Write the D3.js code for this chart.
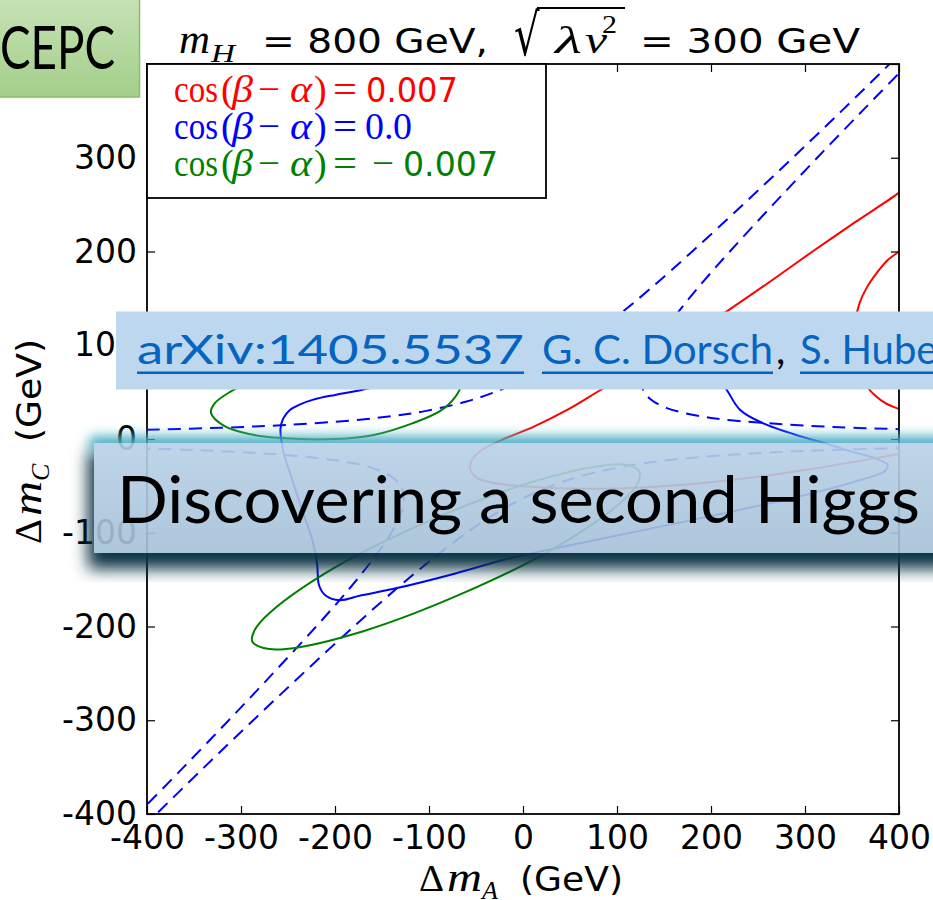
<!DOCTYPE html>
<html>
<head>
<meta charset="utf-8">
<script src="https://cdn.jsdelivr.net/npm/d3@7"></script>
<style>
  html, body { margin: 0; padding: 0; background: #fff; }
  svg { display: block; }
</style>
</head>
<body>
<svg id="chart" width="933" height="900"></svg>
<script>
// ---- axis ticks ----
const tickValues = [-400, -300, -200, -100, 0, 100, 200, 300, 400];
const tickLabels = ["-400", "-300", "-200", "-100", "0", "100", "200", "300", "400"];

// ---- legend ----
const seriesColors = ["#ff0000", "#0000ff", "#008000"];
const seriesValues = ["0.007", "0.0", "−0.007"];

// ---- cos(β−α) = 0 : dashed branches (ΔmA, ΔmC) in GeV ----
const dashUpperLeft = [[-400,9.8],[-321,12],[-252,15],[-180,20],[-135,25],[-103,30],[-60,40],[-30,50],[-7,60],[13,70],[30,80],[60,100],[99,130],[135,160],[180,200],[234,250],[287,300],[339,350],[390,400],[400,410]];
const dashUpperRight = [[410,10],[400,10.5],[330,12.8],[260,17],[200,22.5],[153,33],[135,43],[128,52],[126,60],[127,70],[130,80],[140,100],[161,130],[185,160],[220,200],[266,250],[313,300],[361,350],[400,390],[410,400]];
const dashLowerLeft = [[-410,-10],[-400,-10.3],[-345,-12],[-282,-15],[-220,-20],[-185,-25],[-163,-30],[-140,-40],[-130,-50],[-127,-60],[-127,-70],[-130,-80],[-140,-100],[-161,-130],[-185,-160],[-220,-200],[-266,-250],[-313,-300],[-361,-350],[-400,-390],[-410,-400]];
const dashLowerRight = [[410,-9.5],[400,-9.8],[321,-12],[252,-15],[180,-20],[135,-25],[103,-30],[60,-40],[30,-50],[7,-60],[-13,-70],[-30,-80],[-60,-100],[-99,-130],[-135,-160],[-180,-200],[-234,-250],[-287,-300],[-339,-350],[-390,-400],[-400,-410]];

// ---- cos(β−α) = 0 : solid contour ----
const blueLoop = [[-258,11],[-255,22],[-248,31],[-237,37],[-223,42],[-200,47],[-173,52],[-110,67],[-46,82],[18,93],[82,98],[135,97],[178,88],[204,71],[217,52],[231,31],[255,17],[295,3],[316,-3],[348,-13],[373,-20],[388,-28],[384,-35],[358,-44],[295,-61],[210,-80],[124,-98],[18,-120],[-21,-129],[-78,-145],[-134,-159],[-173,-167],[-195,-172],[-210,-167],[-217,-156],[-219,-134],[-224,-108],[-235,-76],[-246,-42],[-254,-17],[-257,-2]];

// ---- cos(β−α) = 0.007 ----
const redUpper = [[406,268],[399,262],[353,231],[308,200],[263,168],[218,137],[171,107],[125,78],[82,52],[47,31],[11,13],[-25,-2],[-44,-12],[-54,-22],[-56,-33],[-48,-42],[-30,-47],[7,-51],[82,-53],[167,-49],[252,-40],[337,-27],[400,-16],[410,-14]];
const redCap = [[406,206],[400,200],[388,191],[377,178],[366,162],[358,145],[354,127],[353,108],[355,88],[360,71],[366,56],[374,47],[386,38],[400,32],[410,28]];

// ---- cos(β−α) = −0.007 ----
const greenUpper = [[-332,28],[-318,14],[-290,5],[-258,1],[-198,0],[-160,4],[-117,17],[-88,30],[-72,45],[-66,58],[-72,70],[-86,78],[-112,84],[-140,86],[-175,86],[-210,82],[-250,74],[-285,63],[-312,50],[-328,38]];
const greenLower = [[124,-35],[121,-49],[105,-67],[36,-115],[-65,-165],[-170,-205],[-252,-224],[-276,-223],[-288,-216],[-285,-203],[-269,-185],[-200,-137],[-99,-87],[6,-47],[88,-28],[112,-28]];

const curves = [
  { pts: dashUpperLeft,  color: seriesColors[1], dashed: true,  closed: false },
  { pts: dashUpperRight, color: seriesColors[1], dashed: true,  closed: false },
  { pts: dashLowerLeft,  color: seriesColors[1], dashed: true,  closed: false },
  { pts: dashLowerRight, color: seriesColors[1], dashed: true,  closed: false },
  { pts: blueLoop,       color: seriesColors[1], dashed: false, closed: true },
  { pts: redUpper,       color: seriesColors[0], dashed: false, closed: false },
  { pts: redCap,         color: seriesColors[0], dashed: false, closed: false },
  { pts: greenUpper,     color: seriesColors[2], dashed: false, closed: true },
  { pts: greenLower,     color: seriesColors[2], dashed: false, closed: true }
];

const SANS = "'DejaVu Sans', sans-serif";
const SERIF = "'Liberation Serif', 'DejaVu Serif', serif";
const SLIDE = "Lato, 'Open Sans', sans-serif";

const svg = d3.select("#chart");
const defs = svg.append("defs");
svg.append("rect").attr("width", 933).attr("height", 900).attr("fill", "#fff");

const x = d3.scaleLinear().domain([-400, 400]).range([147, 899]);
const y = d3.scaleLinear().domain([-400, 400]).range([814, 64]);
const [X0, X1] = x.range(), [Y1, Y0] = y.range();

defs.append("clipPath").attr("id", "plot-clip")
  .append("rect").attr("x", X0).attr("y", Y0).attr("width", X1 - X0).attr("height", Y1 - Y0);

// ---- contours ----
const openLine = d3.line().x(d => x(d[0])).y(d => y(d[1])).curve(d3.curveCatmullRom.alpha(0.5));
const closedLine = d3.line().x(d => x(d[0])).y(d => y(d[1])).curve(d3.curveCatmullRomClosed.alpha(0.5));

const gCurves = svg.append("g").attr("clip-path", "url(#plot-clip)").attr("fill", "none");
gCurves.selectAll("path").data(curves).join("path")
  .attr("d", d => (d.closed ? closedLine : openLine)(d.pts))
  .attr("stroke", d => d.color)
  .attr("stroke-width", 2)
  .attr("stroke-linejoin", "round")
  .attr("stroke-dasharray", d => d.dashed ? "13,8" : null);

// ---- axes ----
const fmt = d => tickLabels[tickValues.indexOf(d)];
function styleAxis(g) {
  g.select(".domain").remove();
  g.selectAll(".tick line").attr("stroke", "#000").attr("stroke-width", 1.2);
  g.selectAll(".tick text").attr("fill", "#000").attr("font-size", 33).attr("font-family", SANS);
}
svg.append("g").attr("transform", `translate(0,${Y1})`)
  .call(d3.axisBottom(x).tickValues(tickValues).tickFormat(fmt).tickSizeInner(-8).tickSizeOuter(0).tickPadding(12))
  .call(styleAxis);
svg.append("g").attr("transform", `translate(0,${Y0})`)
  .call(d3.axisTop(x).tickValues(tickValues).tickFormat("").tickSizeInner(-8).tickSizeOuter(0))
  .call(styleAxis);
svg.append("g").attr("transform", `translate(${X0},0)`)
  .call(d3.axisLeft(y).tickValues(tickValues).tickFormat(fmt).tickSizeInner(-8).tickSizeOuter(0).tickPadding(10))
  .call(styleAxis);
svg.append("g").attr("transform", `translate(${X1},0)`)
  .call(d3.axisRight(y).tickValues(tickValues).tickFormat("").tickSizeInner(-8).tickSizeOuter(0))
  .call(styleAxis);

svg.append("rect").attr("x", X0).attr("y", Y0).attr("width", X1 - X0).attr("height", Y1 - Y0)
  .attr("fill", "none").attr("stroke", "#000").attr("stroke-width", 1.8);

// helper: text piece
function piece(parent, t, px, py, o = {}) {
  const el = parent.append("text").attr("x", px).attr("y", py).text(t)
    .attr("font-family", o.family || SERIF).attr("font-size", o.size || 38)
    .attr("fill", o.fill || "#000");
  if (o.italic) el.attr("font-style", "italic");
  if (o.w) el.attr("textLength", o.w).attr("lengthAdjust", "spacingAndGlyphs");
  return el;
}

// ink extent of a glyph relative to its text anchor (baseline origin)
function inkBox(ch, font) {
  const c = document.createElement("canvas");
  c.width = 240; c.height = 240;
  const ctx = c.getContext("2d");
  ctx.font = font;
  ctx.textBaseline = "alphabetic";
  ctx.fillStyle = "#000";
  ctx.fillText(ch, 60, 170);
  const data = ctx.getImageData(0, 0, 240, 240).data;
  let x0 = 1e9, x1 = -1e9, y0 = 1e9, y1 = -1e9;
  for (let j = 0; j < 240; j++) for (let i = 0; i < 240; i++) {
    if (data[(j * 240 + i) * 4 + 3] > 60) {
      if (i < x0) x0 = i; if (i > x1) x1 = i; if (j < y0) y0 = j; if (j > y1) y1 = j;
    }
  }
  return { x0: x0 - 60, x1: x1 + 1 - 60, y0: y0 - 170, y1: y1 + 1 - 170 };
}

// ---- title ----
const gTitle = svg.append("g");
piece(gTitle, "m", 179, 53, { italic: true, size: 40, w: 31 });
piece(gTitle, "H", 211, 62, { italic: true, size: 26, w: 24 });
piece(gTitle, "= 800 GeV,", 262, 53, { family: SANS, size: 33, w: 226 });
// radical sign stretched over λv², with its vinculum
const ink = inkBox("√", "40px 'DejaVu Sans'");
const rx0 = 515, rx1 = 540, ry0 = 7, ry1 = 56;
const sx = (rx1 - rx0) / (ink.x1 - ink.x0), sy = (ry1 - ry0) / (ink.y1 - ink.y0);
gTitle.append("text").text("√").attr("font-family", SANS).attr("font-size", 40).attr("fill", "#000")
  .attr("transform", `translate(${rx0},${ry0}) scale(${sx},${sy}) translate(${-ink.x0},${-ink.y0})`);
gTitle.append("line").attr("x1", rx1 - 3).attr("x2", 625).attr("y1", 8).attr("y2", 8)
  .attr("stroke", "#000").attr("stroke-width", 2.2);
piece(gTitle, "λ", 555, 53, { italic: true, size: 38, w: 27 });
piece(gTitle, "v", 585, 53, { italic: true, size: 38, w: 22 });
piece(gTitle, "2", 602, 33, { size: 25, w: 15 });
piece(gTitle, "= 300 GeV", 640, 53, { family: SANS, size: 33, w: 220 });

// ---- axis labels ----
const gXL = svg.append("g");
piece(gXL, "Δ", 419, 891, { size: 38, w: 25 });
piece(gXL, "m", 447, 891, { italic: true, size: 40, w: 35 });
piece(gXL, "A", 482, 899, { italic: true, size: 26 });
piece(gXL, "(GeV)", 520, 891, { family: SANS, size: 33, w: 103 });

const gYL = svg.append("g").attr("transform", "translate(41,440) rotate(-90)");
piece(gYL, "Δ", -104, 0, { size: 38, w: 25 });
piece(gYL, "m", -76, 0, { italic: true, size: 40, w: 35 });
piece(gYL, "C", -41, 8, { italic: true, size: 26 });
piece(gYL, "(GeV)", -2, 0, { family: SANS, size: 33, w: 103 });

// ---- legend ----
const gLeg = svg.append("g");
gLeg.append("rect").attr("x", X0).attr("y", Y0).attr("width", 399).attr("height", 134)
  .attr("fill", "#fff").attr("stroke", "#000").attr("stroke-width", 1.8);
const rowBase = [101.5, 138.5, 175.5];
seriesValues.forEach((v, i) => {
  const c = seriesColors[i], by = rowBase[i];
  piece(gLeg, "cos", 174, by, { fill: c, w: 44 });
  piece(gLeg, "(", 221, by, { fill: c });
  piece(gLeg, "β", 232, by, { fill: c, italic: true, w: 21 });
  piece(gLeg, "−", 258, by, { fill: c, w: 22 });
  piece(gLeg, "α", 290, by, { fill: c, italic: true, w: 22 });
  piece(gLeg, ")", 314, by, { fill: c });
  piece(gLeg, "=", 333, by, { fill: c, w: 24 });
  if (v === "0.0") {
    piece(gLeg, "0.", 365, by, { fill: c });
    piece(gLeg, "0", 393, by, { fill: c });
  } else if (v.startsWith("−")) {
    piece(gLeg, "−", 372, by, { fill: c, w: 22 });
    piece(gLeg, v.slice(1), 403, by, { fill: c, family: SANS, size: 33, w: 95 });
  } else {
    piece(gLeg, v, 366, by, { fill: c, family: SANS, size: 33, w: 92 });
  }
});

// ---- slide overlays ----
// CEPC tag
const cepcGrad = defs.append("linearGradient").attr("id", "cepc-fill").attr("x1", 0).attr("y1", 0).attr("x2", 0).attr("y2", 1);
cepcGrad.append("stop").attr("offset", "0%").attr("stop-color", "#c8e2b8");
cepcGrad.append("stop").attr("offset", "100%").attr("stop-color", "#a3cf89");
svg.append("rect").attr("x", -6).attr("y", -6).attr("width", 145.5).attr("height", 103)
  .attr("fill", "url(#cepc-fill)").attr("stroke", "#86bf68").attr("stroke-width", 1.5);
piece(svg, "CEPC", 0, 69, { family: SLIDE, size: 60, w: 115 });

// reference banner
svg.append("rect").attr("x", 116).attr("y", 311.5).attr("width", 830).attr("height", 78).attr("fill", "#bdd7ee");
const LINK = "#0563c1";
const refParts = [
  { t: "arXiv:1405.5537", x0: 137, w: 387, link: true },
  { t: "G. C. Dorsch", x0: 542, w: 231, link: true },
  { t: ",", x0: 776, w: null, link: false },
  { t: "S. Huber", x0: 800, w: 152, link: true }
];
refParts.forEach(p => {
  piece(svg, p.t, p.x0, 364, { family: SLIDE, size: 41, w: p.w, fill: p.link ? LINK : "#000" });
  if (p.link) svg.append("rect").attr("x", p.x0).attr("y", 371.5).attr("width", p.w).attr("height", 2.5).attr("fill", LINK);
});

// title banner with shadow and glow
const BX = 94, BY = 443, BW = 850, BH = 110;
const blur8 = defs.append("filter").attr("id", "blur8").attr("x", "-20%").attr("y", "-60%").attr("width", "140%").attr("height", "220%");
blur8.append("feGaussianBlur").attr("stdDeviation", 8);
const blur6 = defs.append("filter").attr("id", "blur6").attr("x", "-20%").attr("y", "-200%").attr("width", "140%").attr("height", "500%");
blur6.append("feGaussianBlur").attr("stdDeviation", 6);
const mask = defs.append("mask").attr("id", "outside-banner");
mask.append("rect").attr("x", 0).attr("y", 0).attr("width", 933).attr("height", 900).attr("fill", "#fff");
mask.append("rect").attr("x", BX).attr("y", BY).attr("width", BW).attr("height", BH).attr("fill", "#000");

const gFx = svg.append("g").attr("mask", "url(#outside-banner)");
gFx.append("rect").attr("x", 88).attr("y", 452).attr("width", 880).attr("height", 117)
  .attr("fill", "#0a3444").attr("filter", "url(#blur8)");
gFx.append("rect").attr("x", BX - 4).attr("y", 436).attr("width", BW + 20).attr("height", 16)
  .attr("fill", "#4fb0c8").attr("filter", "url(#blur6)");

const bannerGrad = defs.append("linearGradient").attr("id", "banner-fill").attr("x1", 0).attr("y1", 0).attr("x2", 0).attr("y2", 1);
bannerGrad.append("stop").attr("offset", "0%").attr("stop-color", "#b8d1e7");
bannerGrad.append("stop").attr("offset", "100%").attr("stop-color", "#a5c0d7");
svg.append("rect").attr("x", BX).attr("y", BY).attr("width", BW).attr("height", BH)
  .attr("fill", "url(#banner-fill)").attr("fill-opacity", 0.9);
piece(svg, "Discovering a second Higgs", 117, 523, { family: SLIDE, size: 66, w: 803 });
</script>
</body>
</html>
